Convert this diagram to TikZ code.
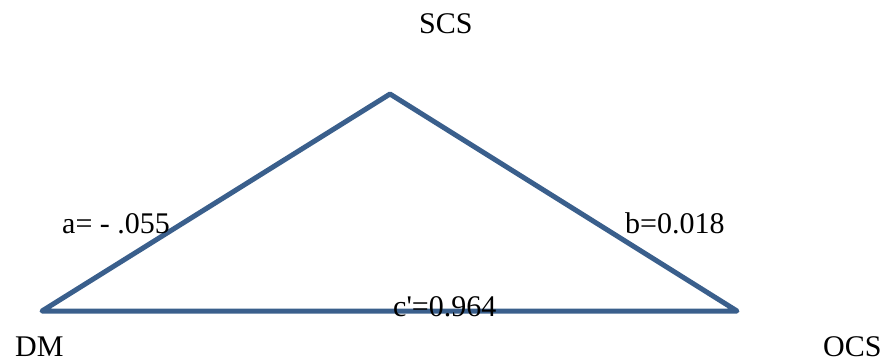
\documentclass[tikz,border=0pt]{standalone}
\usepackage{fontspec}
\setmainfont{Liberation Serif}
\usepackage{tikz}
\usetikzlibrary{positioning}
\definecolor{triblue}{RGB}{58,95,140}
\tikzset{
  edge/.style ={line width=5pt, draw=triblue, line join=round, line cap=round}, % triangle sides
  lbl/.style  ={inner sep=0pt, anchor=base west, font=\fontsize{30}{36}\selectfont},
}
\begin{document}
\begin{tikzpicture}[x=1pt, y=-1pt]
  \useasboundingbox (0,0) rectangle (886,362);
  % corners of the triangle
  \coordinate (vdm)  at (42,311);
  \coordinate (vscs) at (390,94);
  \coordinate (vocs) at (737,311);
  \draw[edge] (vdm) -- (vscs) -- (vocs) -- cycle;

  % vertex names
  \node[lbl] (scs) at (419,33)  {SCS};
  \node[lbl] (dm)  at (15,356)  {DM};
  \node[lbl] (ocs) at (823,356) {OCS};

  % path coefficients
  \node[lbl] (la) at (62,233)  {a= - .055};
  \node[lbl] (lb) at (625,233) {b=0.018};
  \node[lbl] (lc) at (393,316) {c\textquotesingle=0.964};
\end{tikzpicture}
\end{document}
